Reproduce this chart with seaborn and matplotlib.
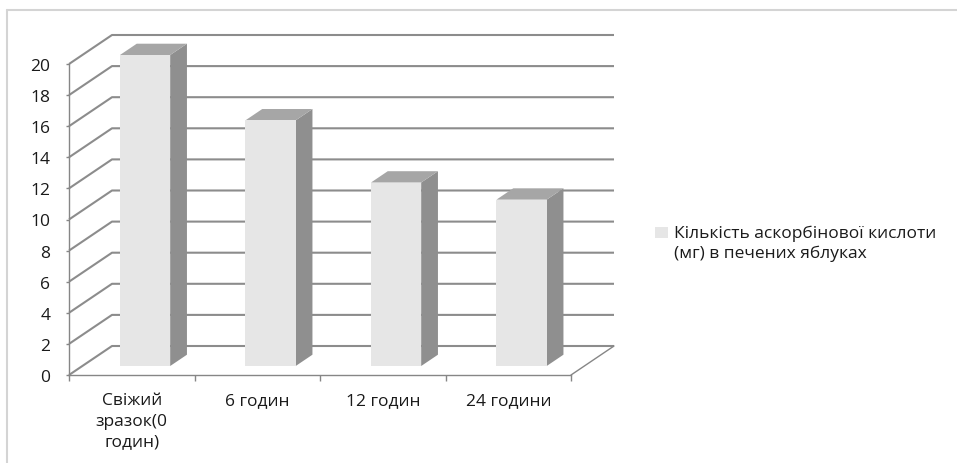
import matplotlib
matplotlib.use("Agg")
import numpy as np
import pandas as pd
import matplotlib.pyplot as plt
from matplotlib.transforms import Affine2D
from matplotlib.patches import Polygon, Patch
from matplotlib.lines import Line2D
import seaborn as sns

# Data
categories = ["Свіжий\nзразок(0\nгодин)", "6 годин", "12 годин", "24 години"]
values = [20.0, 15.8, 11.8, 10.7]
series_label = "Кількість аскорбінової кислоти\n(мг) в печених яблуках"
y_ticks = list(range(0, 21, 2))

sns.set_theme(style="white")
plt.rcParams["font.family"] = ["Open Sans", "DejaVu Sans"]

FRONT = "#e6e6e6"
SIDE = "#8f8f8f"
TOP = "#a6a6a6"
GRID = "#8c8c8c"
AXIS = "#868686"
TEXT = "#1a1a1a"
FS = 12.5

W, H = 957, 464
fig = plt.figure(figsize=(W / 100, H / 100), dpi=100)
fig.patch.set_facecolor("white")
# axes box = front plane of the 3D chart
ax = fig.add_axes([69 / W, 88 / H, 502 / W, 311 / H])
ax.set_facecolor("none")

df = pd.DataFrame({"category": categories, "value": values})
sns.barplot(data=df, x="category", y="value", color=FRONT, saturation=1,
            width=0.4, linewidth=0, ax=ax, zorder=4)

ax.set_xlim(-0.5, 3.5)
ax.set_ylim(0, 20)

# depth of the box in data units (x: categories, y: value units)
DX = 43 / 125.5
DY = 29 / 15.55
F0, F1 = 0.31, 0.70  # front / back of each column within the depth

# back wall gridlines with their diagonals on the side wall
for t in y_ticks:
    ax.plot([-0.5, -0.5 + DX, 3.5 + DX], [t, t + DY, t + DY],
            color=GRID, lw=1.5, clip_on=False, zorder=1,
            solid_capstyle="butt")
# right edge of the floor
ax.plot([3.5, 3.5 + DX], [0, DY], color=AXIS, lw=1.0, clip_on=False, zorder=1)

# turn the flat bars into 3D columns
for p in list(ax.patches):
    x0, w, h = p.get_x(), p.get_width(), p.get_height()
    p.set_transform(Affine2D().translate(F0 * DX, F0 * DY) + ax.transData)
    p.set_clip_on(False)
    xr = x0 + w
    side = [(xr + F0 * DX, F0 * DY), (xr + F0 * DX, h + F0 * DY),
            (xr + F1 * DX, h + F1 * DY), (xr + F1 * DX, F1 * DY)]
    top = [(x0 + F0 * DX, h + F0 * DY), (xr + F0 * DX, h + F0 * DY),
           (xr + F1 * DX, h + F1 * DY), (x0 + F1 * DX, h + F1 * DY)]
    ax.add_patch(Polygon(side, closed=True, facecolor=SIDE, edgecolor="none",
                         clip_on=False, zorder=3))
    ax.add_patch(Polygon(top, closed=True, facecolor=TOP, edgecolor="none",
                         clip_on=False, zorder=3))

# axes styling
for s in ["top", "right"]:
    ax.spines[s].set_visible(False)
for s in ["left", "bottom"]:
    ax.spines[s].set_color(AXIS)
    ax.spines[s].set_linewidth(1.0)

ax.set_xlabel("")
ax.set_ylabel("")
ax.set_yticks(y_ticks)
ax.tick_params(axis="y", left=True, length=2.5, width=1, color=AXIS, pad=11,
               labelsize=FS, labelcolor=TEXT)
ax.set_xticks(range(len(categories)), categories)
ax.set_xticks(np.arange(-0.5, len(categories), 1.0), minor=True)
ax.tick_params(axis="x", which="major", bottom=False, length=0, pad=12.5,
               labelsize=FS, labelcolor=TEXT)
ax.tick_params(axis="x", which="minor", bottom=True, length=4, width=1,
               color=AXIS)
for lbl in ax.get_xticklabels():
    lbl.set_linespacing(1.38)

# legend
leg = ax.legend(handles=[Patch(facecolor=FRONT, edgecolor="none", label=series_label)],
                loc="upper left", bbox_to_anchor=(655 / W, 1 - 226 / H),
                bbox_transform=fig.transFigure, frameon=False, fontsize=FS,
                handlelength=0.75, handleheight=0.55, handletextpad=0.35,
                borderpad=0, borderaxespad=0, labelcolor=TEXT)
for t in leg.get_texts():
    t.set_linespacing(1.3)
# keep the swatch level with the first text line
sw = leg.legend_handles[0]
sw.set_y(sw.get_y() + 7.5)

# outer chart border (top and left edges)
fig.add_artist(Line2D([7 / W, 1], [1 - 11 / H, 1 - 11 / H],
                      transform=fig.transFigure, color="#d4d4d4", lw=1.5))
fig.add_artist(Line2D([7 / W, 7 / W], [0, 1 - 11 / H],
                      transform=fig.transFigure, color="#d4d4d4", lw=1.5))

fig.savefig("out.png", dpi=100)
